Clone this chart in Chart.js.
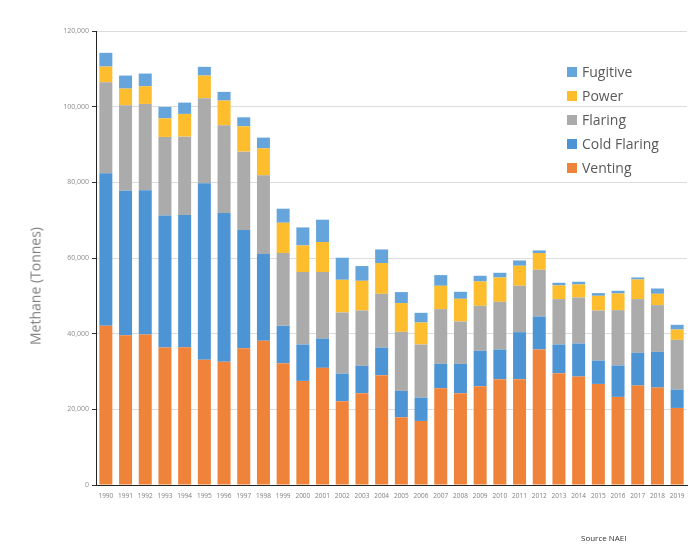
<!DOCTYPE html>
<html>
<head>
<meta charset="utf-8">
<script src="https://cdn.jsdelivr.net/npm/chart.js@4"></script>
<style>
html,body{margin:0;padding:0;background:#fff;}
#wrap{position:relative;width:699px;height:551px;}
#c{position:absolute;left:0;top:0;}
#ytitle{position:absolute;left:35px;top:286px;transform:translate(-50%,-50%) rotate(-90deg);font-family:"Open Sans",sans-serif;font-size:14px;color:#808080;white-space:nowrap;}
#legend{position:absolute;left:567px;top:60px;font-family:"Open Sans",sans-serif;font-size:14px;color:#595959;}
.li{position:relative;height:24px;line-height:24px;white-space:nowrap;}
.sw{display:inline-block;width:10px;height:10px;margin-right:5px;vertical-align:middle;position:relative;top:-1px;}
#src{position:absolute;left:581px;top:532px;font-family:"Open Sans",sans-serif;font-size:8px;color:#333;white-space:nowrap;}
</style>
</head>
<body>
<div id="wrap">
<canvas id="c" width="699" height="551"></canvas>
<div id="ytitle">Methane (Tonnes)</div>
<div id="legend"></div>
<div id="src">Source NAEI</div>
</div>
<script>
const years = ["1990","1991","1992","1993","1994","1995","1996","1997","1998","1999","2000","2001","2002","2003","2004","2005","2006","2007","2008","2009","2010","2011","2012","2013","2014","2015","2016","2017","2018","2019"];
const venting = [42070,39610,39770,36330,36430,33080,32550,36170,38100,32200,27520,30960,22150,24260,29030,17910,16930,25580,24260,26110,27970,27970,35810,29550,28660,26720,23290,26280,25750,20370];
const coldFlaring = [40300,38180,38110,34930,34930,46650,39340,31220,22940,9870,9610,7760,7300,7230,7300,6960,6170,6440,7760,9350,7840,12430,8730,7580,8730,6170,8290,8650,9440,4850];
const flaring = [24080,22570,22850,20740,20720,22490,23180,20720,20800,19240,19150,17560,16150,14640,14210,15610,14030,14470,11200,11900,12610,12260,12350,12000,12180,13240,14640,14200,12360,13150];
const power = [4150,4420,4670,4920,6000,6000,6540,6700,7150,8010,7040,7940,8640,7850,8120,7600,5820,6170,6000,6440,6430,5290,4420,3620,3430,3880,4400,5190,2990,2720];
const fugitive = [3630,3440,3350,3020,3000,2300,2300,2380,2830,3710,4760,5900,5830,3890,3600,2910,2560,2820,1850,1500,1240,1400,690,700,720,710,710,530,1400,1250];
const yTicks = [0,20000,40000,60000,80000,100000,120000];

const series = [
  {label:"Venting", data:venting, color:"#F0833A"},
  {label:"Cold Flaring", data:coldFlaring, color:"#4D94D5"},
  {label:"Flaring", data:flaring, color:"#ABABAB"},
  {label:"Power", data:power, color:"#FDBD2C"},
  {label:"Fugitive", data:fugitive, color:"#65A5DC"}
];

const chart = new Chart(document.getElementById("c"), {
  type:"bar",
  data:{
    labels:years,
    datasets:series.map(s=>({label:s.label,data:s.data,backgroundColor:s.color,borderWidth:0,barPercentage:0.66,categoryPercentage:1}))
  },
  options:{
    responsive:false,
    animation:false,
    devicePixelRatio:1,
    layout:{padding:{top:31,right:12,left:0,bottom:0}},
    plugins:{legend:{display:false},tooltip:{enabled:false}},
    scales:{
      x:{
        stacked:true,
        grid:{display:false,drawTicks:false,tickLength:0},
        border:{display:true,color:"#222",width:1},
        ticks:{font:{family:"Open Sans",size:6.5},color:"#808080",padding:7,maxRotation:0,autoSkip:false},
        afterFit:(s)=>{s.height=66;}
      },
      y:{
        stacked:true,
        min:0,max:120000,
        afterBuildTicks:(s)=>{s.ticks=yTicks.map(v=>({value:v}));},
        grid:{color:"#DCDCDC",lineWidth:1,tickColor:"#333",tickLength:4,drawTicks:true},
        border:{display:true,color:"#222",width:1},
        ticks:{font:{family:"Open Sans",size:7},color:"#8C8C8C",padding:3,callback:(v)=>v.toLocaleString("en-US")},
        afterFit:(s)=>{s.width=96;}
      }
    }
  }
});

const lg = document.getElementById("legend");
series.slice().reverse().forEach(s=>{
  const d=document.createElement("div");d.className="li";
  const sw=document.createElement("span");sw.className="sw";sw.style.background=s.color;
  d.appendChild(sw);d.appendChild(document.createTextNode(s.label));
  lg.appendChild(d);
});
</script>
</body>
</html>
